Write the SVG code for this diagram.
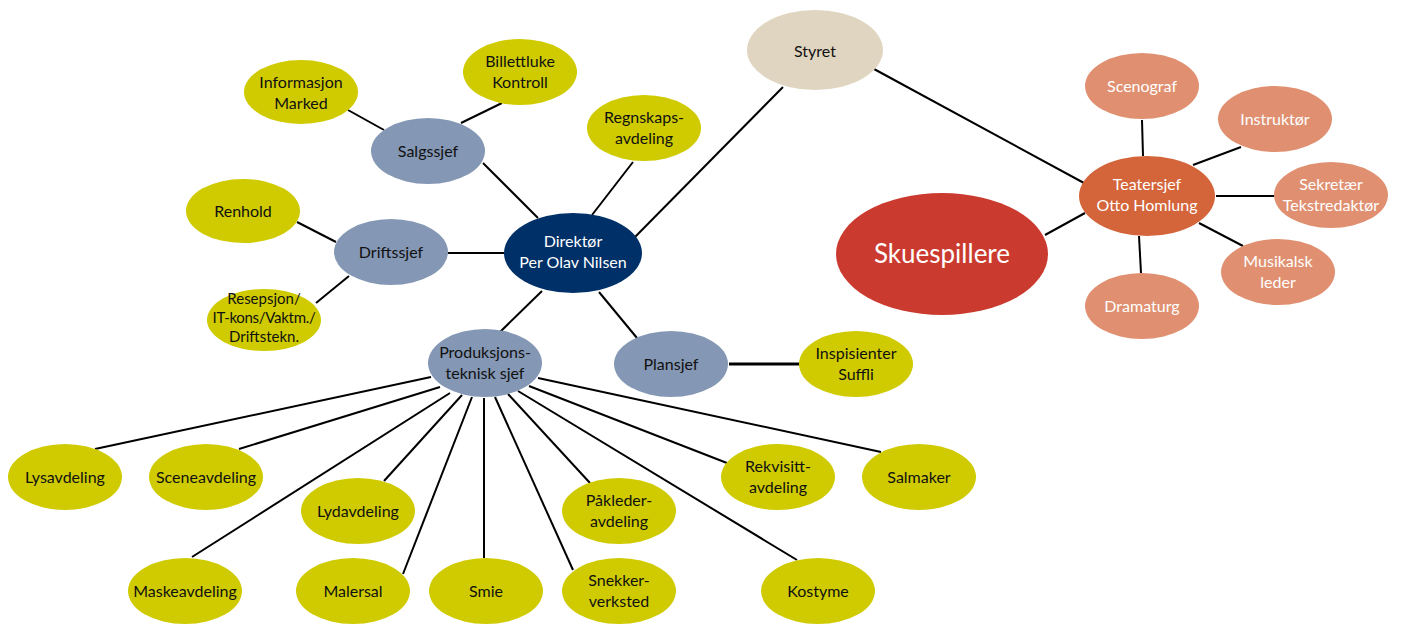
<svg xmlns="http://www.w3.org/2000/svg" width="1402" height="626" viewBox="0 0 1402 626">
<style>
text{font-family:Lato,"Open Sans","Liberation Sans",sans-serif;font-size:16px;text-anchor:middle;fill:#111}
.y{fill:#CFCB00}
.b{fill:#8497B4}
.o{fill:#E09070}
.w{fill:#fff}
#connectors line{stroke:#000;stroke-width:2}
</style>
<rect width="1402" height="626" fill="#fff"/>
<g id="connectors">
<line x1="874" y1="69" x2="1084" y2="183"/>
<line x1="1142" y1="120" x2="1143" y2="156"/>
<line x1="1193" y1="165" x2="1241" y2="147"/>
<line x1="1216" y1="196" x2="1274" y2="196"/>
<line x1="1199" y1="223" x2="1243" y2="246"/>
<line x1="1139" y1="236" x2="1141" y2="273"/>
<line x1="1085" y1="213" x2="1045" y2="235"/>
<line x1="635" y1="237" x2="783" y2="87"/>
<line x1="592" y1="215" x2="633" y2="162"/>
<line x1="483" y1="163" x2="538" y2="218"/>
<line x1="448" y1="253" x2="504" y2="253"/>
<line x1="542" y1="291" x2="500" y2="332"/>
<line x1="599" y1="292" x2="637" y2="338"/>
<line x1="729" y1="364" x2="799" y2="364" style="stroke-width:3"/>
<line x1="348" y1="110" x2="384" y2="130"/>
<line x1="461" y1="123" x2="502" y2="103"/>
<line x1="297" y1="222" x2="336" y2="242"/>
<line x1="349" y1="276" x2="316" y2="303"/>
<line x1="431" y1="377" x2="95" y2="449"/>
<line x1="440" y1="387" x2="239" y2="449"/>
<line x1="450" y1="393" x2="192" y2="557"/>
<line x1="462" y1="395" x2="384" y2="481"/>
<line x1="472" y1="397" x2="403" y2="574"/>
<line x1="484" y1="398" x2="484" y2="558"/>
<line x1="495" y1="397" x2="573" y2="570"/>
<line x1="508" y1="394" x2="590" y2="483"/>
<line x1="518" y1="391" x2="797" y2="560"/>
<line x1="529" y1="386" x2="727" y2="463"/>
<line x1="538" y1="378" x2="881" y2="452"/>
</g>
<g id="direktor"><ellipse cx="573" cy="253" rx="69" ry="40" fill="#003068"/><text class="w" x="573" y="247">Direktør</text><text class="w" x="573" y="268">Per Olav Nilsen</text></g>
<g id="styret"><ellipse cx="815" cy="50" rx="68" ry="40" fill="#E0D5C0"/><text x="815" y="57">Styret</text></g>
<g id="salgssjef"><ellipse class="b" cx="428" cy="151" rx="57" ry="33"/><text x="428" y="157">Salgssjef</text></g>
<g id="informasjon"><ellipse class="y" cx="301" cy="92" rx="57" ry="32"/><text x="301" y="88">Informasjon</text><text x="301" y="109">Marked</text></g>
<g id="billettluke"><ellipse class="y" cx="520" cy="72" rx="57" ry="33"/><text x="520" y="67">Billettluke</text><text x="520" y="88">Kontroll</text></g>
<g id="regnskap"><ellipse class="y" cx="644" cy="128" rx="57" ry="33"/><text x="644" y="123">Regnskaps-</text><text x="644" y="144">avdeling</text></g>
<g id="driftssjef"><ellipse class="b" cx="391" cy="252" rx="57" ry="33"/><text x="391" y="258">Driftssjef</text></g>
<g id="renhold"><ellipse class="y" cx="243" cy="211" rx="57" ry="32"/><text x="243" y="217">Renhold</text></g>
<g id="resepsjon"><ellipse class="y" cx="264" cy="320" rx="57" ry="31"/><text x="264" y="304" style="font-size:15px">Resepsjon/</text><text x="264" y="323" style="font-size:15px;letter-spacing:-0.3px">IT-kons/Vaktm./</text><text x="264" y="342" style="font-size:15px">Driftstekn.</text></g>
<g id="produksjon"><ellipse class="b" cx="485" cy="363" rx="57" ry="34"/><text x="485" y="358">Produksjons-</text><text x="485" y="379">teknisk sjef</text></g>
<g id="plansjef"><ellipse class="b" cx="671" cy="364" rx="57" ry="33"/><text x="671" y="370">Plansjef</text></g>
<g id="inspisienter"><ellipse class="y" cx="856" cy="364" rx="57" ry="33"/><text x="856" y="359">Inspisienter</text><text x="856" y="380">Suffli</text></g>
<g id="skuespillere"><ellipse cx="942" cy="254" rx="106" ry="61" fill="#CB3A2F"/><text class="w" x="942" y="263" style="font-size:26px">Skuespillere</text></g>
<g id="teatersjef"><ellipse cx="1147" cy="196" rx="68" ry="40" fill="#D4643A"/><text class="w" x="1147" y="190">Teatersjef</text><text class="w" x="1147" y="211">Otto Homlung</text></g>
<g id="scenograf"><ellipse class="o" cx="1142" cy="86" rx="57" ry="33"/><text class="w" x="1142" y="92">Scenograf</text></g>
<g id="instruktor"><ellipse class="o" cx="1275" cy="119" rx="57" ry="33"/><text class="w" x="1275" y="125">Instruktør</text></g>
<g id="sekretar"><ellipse class="o" cx="1331" cy="195" rx="57" ry="33"/><text class="w" x="1331" y="190">Sekretær</text><text class="w" x="1331" y="211">Tekstredaktør</text></g>
<g id="musikalsk"><ellipse class="o" cx="1278" cy="272" rx="57" ry="33"/><text class="w" x="1278" y="267">Musikalsk</text><text class="w" x="1278" y="288">leder</text></g>
<g id="dramaturg"><ellipse class="o" cx="1142" cy="306" rx="57" ry="33"/><text class="w" x="1142" y="312">Dramaturg</text></g>
<g id="lysavdeling"><ellipse class="y" cx="65" cy="477" rx="57" ry="33"/><text x="65" y="483">Lysavdeling</text></g>
<g id="sceneavdeling"><ellipse class="y" cx="206" cy="477" rx="57" ry="33"/><text x="206" y="483">Sceneavdeling</text></g>
<g id="lydavdeling"><ellipse class="y" cx="358" cy="511" rx="57" ry="33"/><text x="358" y="517">Lydavdeling</text></g>
<g id="pakleder"><ellipse class="y" cx="619" cy="511" rx="57" ry="33"/><text x="619" y="506">Påkleder-</text><text x="619" y="527">avdeling</text></g>
<g id="rekvisitt"><ellipse class="y" cx="778" cy="477" rx="57" ry="33"/><text x="778" y="472">Rekvisitt-</text><text x="778" y="493">avdeling</text></g>
<g id="salmaker"><ellipse class="y" cx="919" cy="477" rx="57" ry="33"/><text x="919" y="483">Salmaker</text></g>
<g id="maskeavdeling"><ellipse class="y" cx="185" cy="591" rx="57" ry="33"/><text x="185" y="597">Maskeavdeling</text></g>
<g id="malersal"><ellipse class="y" cx="353" cy="591" rx="57" ry="33"/><text x="353" y="597">Malersal</text></g>
<g id="smie"><ellipse class="y" cx="486" cy="591" rx="57" ry="33"/><text x="486" y="597">Smie</text></g>
<g id="snekker"><ellipse class="y" cx="619" cy="591" rx="57" ry="33"/><text x="619" y="586">Snekker-</text><text x="619" y="607">verksted</text></g>
<g id="kostyme"><ellipse class="y" cx="818" cy="591" rx="57" ry="33"/><text x="818" y="597">Kostyme</text></g>
</svg>
